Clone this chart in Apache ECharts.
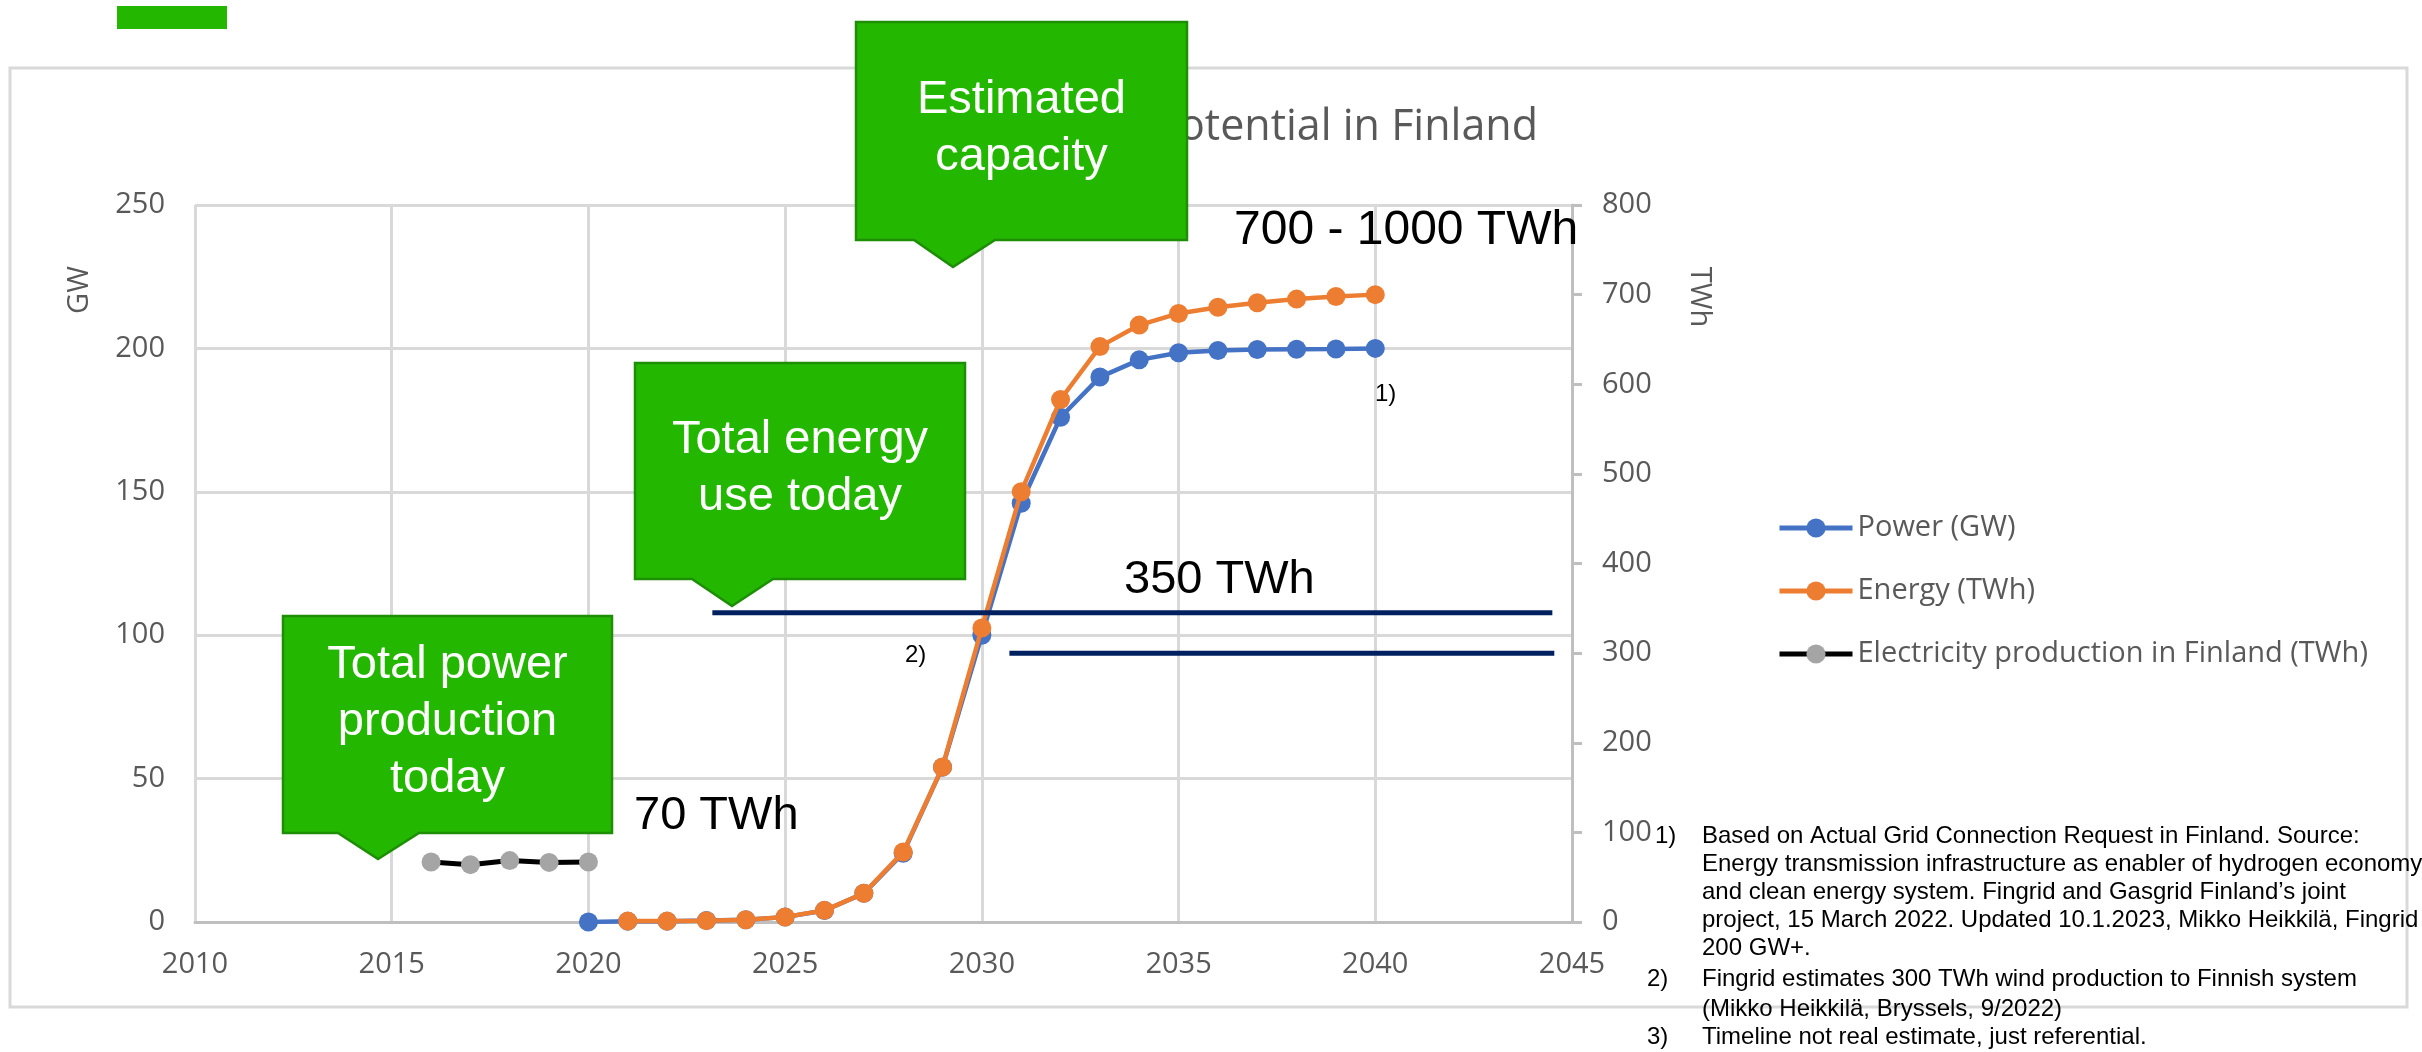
<!DOCTYPE html>
<html>
<head>
<meta charset="utf-8">
<script src="https://cdn.jsdelivr.net/npm/echarts@6/dist/echarts.min.js"></script>
<style>
  html, body { margin: 0; padding: 0; background: #fff; }
  #chart { width: 2422px; height: 1052px; }
</style>
</head>
<body>
<div id="chart"></div>
<script>
// values
var powerYears = [2020, 2021, 2022, 2023, 2024, 2025, 2026, 2027, 2028, 2029, 2030,
                  2031, 2032, 2033, 2034, 2035, 2036, 2037, 2038, 2039, 2040];
var powerGW = [0, 0.3, 0.3, 0.5, 0.8, 1.7, 4, 10, 24, 54, 100,
               146, 176, 190, 196, 198.5, 199.3, 199.6, 199.7, 199.8, 200];

var energyYears = [2021, 2022, 2023, 2024, 2025, 2026, 2027, 2028, 2029, 2030,
                   2031, 2032, 2033, 2034, 2035, 2036, 2037, 2038, 2039, 2040];
var energyTWh = [1, 1, 1.5, 2.5, 5.5, 13, 32, 78, 173, 328,
                 480, 583, 642, 666, 679, 686, 691, 695, 698, 700];

var prodYears = [2016, 2017, 2018, 2019, 2020];
var prodTWh = [67, 64, 68.5, 66.5, 67];

// horizontal reference lines (TWh, right axis)
var refLevels = [345, 300];
var refFrom = [2023.15, 2030.7];
var refTo = [2044.5, 2044.55];

var seriesNames = ['Power (GW)', 'Energy (TWh)', 'Electricity production in Finland (TWh)'];

var footnotes = [
  ['1)', 'Based on Actual Grid Connection Request in Finland. Source:'],
  ['', 'Energy transmission infrastructure as enabler of hydrogen economy'],
  ['', 'and clean energy system. Fingrid and Gasgrid Finland\u2019s joint'],
  ['', 'project, 15 March 2022. Updated 10.1.2023, Mikko Heikkil\u00e4, Fingrid'],
  ['', '200 GW+.'],
  ['2)', 'Fingrid estimates 300 TWh wind production to Finnish system'],
  ['', '(Mikko Heikkil\u00e4, Bryssels, 9/2022)'],
  ['3)', 'Timeline not real estimate, just referential.']
];
var footY = [836, 864, 892, 920, 948, 979, 1009, 1037];

function zip(xs, ys) {
  var out = [];
  for (var i = 0; i < xs.length; i++) out.push([xs[i], ys[i]]);
  return out;
}

var GREEN = '#24B700';
var GREEN_EDGE = '#1D8E05';
var GREY = '#595959';
var EXCEL_FONT = '"Open Sans", sans-serif';
var SLIDE_FONT = '"Liberation Sans", Arial, sans-serif';

function callout(x0, y0, x1, y1, p0, p1, tipX, tipY, text) {
  return [{
    type: 'polygon',
    z: 100,
    shape: { points: [[x0, y0], [x1, y0], [x1, y1], [p1, y1], [tipX, tipY], [p0, y1], [x0, y1]] },
    style: { fill: GREEN, stroke: GREEN_EDGE, lineWidth: 2.5 }
  }, {
    type: 'text',
    z: 101,
    x: (x0 + x1) / 2,
    y: (y0 + y1) / 2 - 2,
    style: {
      text: text, fill: '#fff', fontSize: 47, fontFamily: SLIDE_FONT,
      lineHeight: 57, align: 'center', verticalAlign: 'middle'
    }
  }];
}

function label(x, y, text, size) {
  return {
    type: 'text', z: 101, x: x, y: y,
    style: { text: text, fill: '#000', fontSize: size, fontFamily: SLIDE_FONT, align: 'left', verticalAlign: 'middle' }
  };
}

var graphics = [
  { type: 'rect', z: 0, shape: { x: 10, y: 68, width: 2397, height: 939 },
    style: { fill: 'none', stroke: '#d9d9d9', lineWidth: 3 } },
  { type: 'rect', z: 100, shape: { x: 117, y: 6, width: 110, height: 23 }, style: { fill: GREEN } },
  { type: 'text', z: 1, x: 1538, y: 128,
    style: { text: 'Wind power potential in Finland', fill: GREY, fontSize: 43, fontFamily: EXCEL_FONT,
             align: 'right', verticalAlign: 'middle' } },
  { type: 'text', z: 1, x: 80, y: 290, rotation: Math.PI / 2,
    style: { text: 'GW', fill: GREY, fontSize: 29, fontFamily: EXCEL_FONT, align: 'center', verticalAlign: 'middle' } },
  { type: 'text', z: 1, x: 1699, y: 297, rotation: -Math.PI / 2,
    style: { text: 'TWh', fill: GREY, fontSize: 29, fontFamily: EXCEL_FONT, align: 'center', verticalAlign: 'middle' } }
];

graphics = graphics
  .concat(callout(856, 22, 1187, 240, 914, 995, 953, 267, 'Estimated\ncapacity'))
  .concat(callout(635, 363, 965, 579, 692, 773, 732, 606, 'Total energy\nuse today'))
  .concat(callout(283, 616, 612, 833, 338, 419, 378, 859, 'Total power\nproduction\ntoday'));

graphics.push(label(1234, 231, '700 - 1000 TWh', 48));
graphics.push(label(1124, 580, '350 TWh', 47));
graphics.push(label(634, 816, '70 TWh', 47));
graphics.push(label(1375, 394, '1)', 24));
graphics.push(label(905, 655, '2)', 24));

footnotes.forEach(function (f, i) {
  if (f[0]) {
    graphics.push({ type: 'text', z: 101, x: f[0] === '1)' ? 1655 : 1647, y: footY[i],
      style: { text: f[0], fill: '#000', fontSize: 24, fontFamily: SLIDE_FONT, align: 'left', verticalAlign: 'middle' } });
  }
  graphics.push({ type: 'text', z: 101, x: 1702, y: footY[i],
    style: { text: f[1], fill: '#000', fontSize: 24, fontFamily: SLIDE_FONT, align: 'left', verticalAlign: 'middle' } });
});

var refSeries = refLevels.map(function (lvl, i) {
  return {
    type: 'line',
    yAxisIndex: 1,
    data: [[refFrom[i], lvl], [refTo[i], lvl]],
    symbol: 'none',
    lineStyle: { color: '#002060', width: 5 },
    silent: true,
    z: 4
  };
});

var chart = echarts.init(document.getElementById('chart'));
chart.setOption({
  animation: false,
  backgroundColor: '#fff',
  grid: { left: 195, right: 850, top: 205, bottom: 130 },
  legend: {
    data: seriesNames,
    orient: 'vertical',
    left: 1772,
    top: 506,
    itemWidth: 73,
    itemHeight: 24,
    itemGap: 29,
    lineStyle: { width: 5 },
    textStyle: { color: GREY, fontSize: 29, fontFamily: EXCEL_FONT, lineHeight: 34 }
  },
  xAxis: {
    type: 'value',
    min: 2010,
    max: 2045,
    interval: 5,
    axisLine: { show: true, lineStyle: { color: '#bfbfbf', width: 3 } },
    axisTick: { show: false },
    axisLabel: {
      color: GREY, fontSize: 29, fontFamily: EXCEL_FONT, margin: 28,
      formatter: function (v) { return String(v); }
    },
    splitLine: { show: true, lineStyle: { color: '#d9d9d9', width: 3 } }
  },
  yAxis: [{
    type: 'value',
    min: 0,
    max: 250,
    interval: 50,
    axisLine: { show: false },
    axisTick: { show: false },
    axisLabel: { color: GREY, fontSize: 29, fontFamily: EXCEL_FONT, margin: 30 },
    splitLine: { show: true, lineStyle: { color: '#d9d9d9', width: 3 } }
  }, {
    type: 'value',
    min: 0,
    max: 800,
    interval: 100,
    position: 'right',
    axisLine: { show: true, lineStyle: { color: '#bfbfbf', width: 3 } },
    axisTick: { show: true, length: 10, lineStyle: { color: '#bfbfbf', width: 3 } },
    axisLabel: { color: GREY, fontSize: 29, fontFamily: EXCEL_FONT, margin: 30 },
    splitLine: { show: false }
  }],
  graphic: graphics,
  series: [{
    name: seriesNames[0],
    type: 'line',
    yAxisIndex: 0,
    data: zip(powerYears, powerGW),
    symbol: 'circle',
    symbolSize: 19,
    itemStyle: { color: '#4472C4' },
    lineStyle: { color: '#4472C4', width: 4.5 },
    z: 2
  }, {
    name: seriesNames[1],
    type: 'line',
    yAxisIndex: 1,
    data: zip(energyYears, energyTWh),
    symbol: 'circle',
    symbolSize: 19,
    itemStyle: { color: '#ED7D31' },
    lineStyle: { color: '#ED7D31', width: 4.5 },
    z: 3
  }, {
    name: seriesNames[2],
    type: 'line',
    yAxisIndex: 1,
    data: zip(prodYears, prodTWh),
    symbol: 'circle',
    symbolSize: 19,
    itemStyle: { color: '#A5A5A5' },
    lineStyle: { color: '#000000', width: 5 },
    z: 3
  }].concat(refSeries)
});
</script>
</body>
</html>
